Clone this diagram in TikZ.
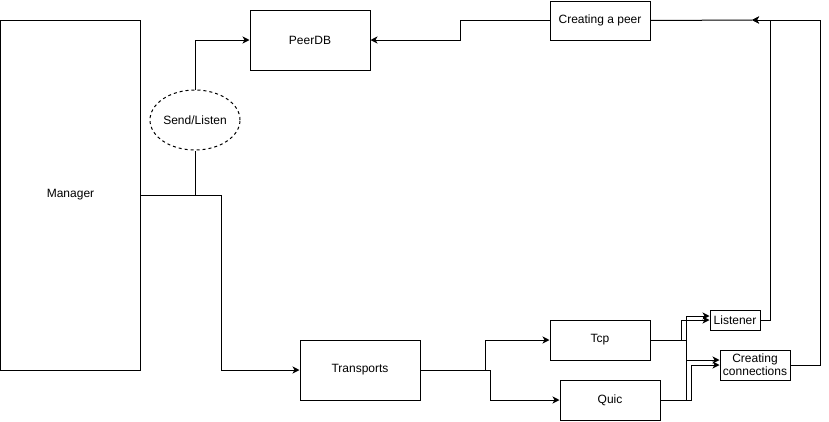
\documentclass[tikz,border=0pt]{standalone}
\usepackage{fontspec}
\setmainfont{Liberation Sans}
\usetikzlibrary{
    arrows.meta,
    shapes.geometric,
    calc,
    positioning
}

\begin{document}
\begin{tikzpicture}[x=1pt, y=-1pt, line width=1pt,
        box/.style={draw, rectangle, inner sep=0pt, font=\fontsize{12}{14}\selectfont},
        oval/.style={draw, ellipse, dash pattern=on 3pt off 3pt, inner sep=0pt,
            minimum width=90pt, minimum height=60pt, font=\fontsize{12}{14}\selectfont},
        arr/.style={-{Stealth[length=7pt, width=7pt, inset=2pt]}}]
    \useasboundingbox (0, 0) rectangle (829, 421);
    % boxes
    \node[box, minimum width=140pt, minimum height=350pt] (manager) at (70.5, 195) {Manager};
    \node[oval] (sendlisten) at (195, 120) {Send/Listen};
    \node[box, minimum width=120pt, minimum height=60pt] (peerdb) at (310, 40) {PeerDB};
    \node[box, minimum width=100pt, minimum height=39pt] (peer) at (600, 20.5) {Creating a peer};
    \node[box, minimum width=120pt, minimum height=60pt] (transports) at (360, 370) {Transports};
    \node[box, minimum width=100pt, minimum height=40pt] (tcp) at (600, 340) {Tcp};
    \node[box, minimum width=100pt, minimum height=40pt] (quic) at (610, 400) {Quic};
    \node[box, minimum width=50pt, minimum height=20pt] (listener) at (735, 320) {Listener};
    \node[box, minimum width=70pt, minimum height=30pt, align=center,
        font=\fontsize{12}{13}\selectfont] (conn) at (755, 365) {Creating\\connections};
    \coordinate (merge) at (752, 20);
    % connectors
    \draw[arr] (manager.east) -- ++(80, 0) |- (transports.west);
    \draw (manager.east -| sendlisten.south) -- (sendlisten.south);
    \draw[arr] (sendlisten.north) |- (peerdb.west);
    \draw[arr] (peer.west) -- ++(-89, 0) |- (peerdb.east);
    \draw (peer.east) -- (merge);
    \draw[arr] (listener.east) -- ++(10, 0) |- (merge);
    \draw[arr] (conn.east) -- ++(30, 0) |- (merge);
    \draw[arr] (transports.east) -- ++(65, 0) |- (tcp.west);
    \draw[arr] (transports.east) -- ++(70, 0) |- (quic.west);
    \draw[arr] (tcp.east) -- ++(31, 0) |- (listener.west);
    \draw[arr] (tcp.east) -- ++(36, 0) |- ([yshift=5pt]conn.west);
    \draw[arr] (quic.east) -- ++(26, 0) |- ([yshift=4pt]listener.west);
    \draw[arr] (quic.east) -- ++(31, 0) |- (conn.west);
\end{tikzpicture}
\end{document}
